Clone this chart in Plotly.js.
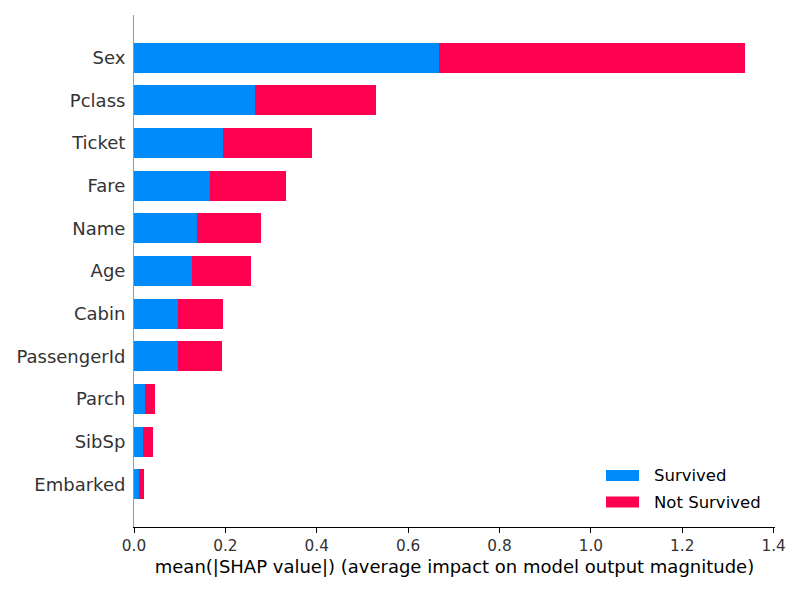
<!DOCTYPE html>
<html>
<head>
<meta charset="utf-8">
<script src="https://cdn.plot.ly/plotly-3.0.1.min.js"></script>
<style>html,body{margin:0;padding:0;background:#fff;}#chart{width:800px;height:590px;}</style>
</head>
<body>
<div id="chart"></div>
<script>
// Features, bottom to top
const features = ["Embarked", "SibSp", "Parch", "PassengerId", "Cabin", "Age", "Name", "Fare", "Ticket", "Pclass", "Sex"];
const survived = [0.010, 0.019, 0.023, 0.096, 0.096, 0.128, 0.137, 0.166, 0.194, 0.264, 0.667];
const notSurvived = [0.011, 0.022, 0.024, 0.096, 0.098, 0.127, 0.140, 0.166, 0.195, 0.265, 0.670];
const seriesNames = ["Survived", "Not Survived"];
const seriesColors = ["#008bfb", "#ff0051"];
const xTicks = [0, 0.2, 0.4, 0.6, 0.8, 1.0, 1.2, 1.4];
const xTickText = ["0.0", "0.2", "0.4", "0.6", "0.8", "1.0", "1.2", "1.4"];
const xTitle = "mean(|SHAP value|) (average impact on model output magnitude)";

const FONT = "DejaVu Sans, sans-serif";
const idx = features.map((_, i) => i);

const traces = [
  {type: "bar", orientation: "h", name: seriesNames[0], x: survived, y: idx,
   marker: {color: seriesColors[0], line: {width: 0}}, width: 0.7, hoverinfo: "x+name"},
  {type: "bar", orientation: "h", name: seriesNames[1], x: notSurvived, y: idx,
   marker: {color: seriesColors[1], line: {width: 0}}, width: 0.7, hoverinfo: "x+name"}
];

// Legend drawn as patches (matplotlib-style) in paper coordinates
const M = {l: 134, r: 25, t: 15, b: 63};
const PW = 800 - M.l - M.r, PH = 590 - M.t - M.b;
const px = v => (v - M.l) / PW;
const py = v => (590 - M.b - v) / PH;
const legendRows = [475.5, 502];
const shapes = [], annotations = [];
seriesNames.forEach((nm, i) => {
  const cy = legendRows[i];
  shapes.push({type: "rect", xref: "paper", yref: "paper",
    x0: px(606), x1: px(639), y0: py(cy + 5.5), y1: py(cy - 5.5),
    fillcolor: seriesColors[i], line: {width: 0}});
  annotations.push({xref: "paper", yref: "paper", x: px(652), y: py(cy),
    xanchor: "left", yanchor: "middle", showarrow: false, text: nm,
    font: {family: FONT, size: 16.5, color: "#000000"}});
});

const layout = {
  width: 800, height: 590,
  margin: {l: M.l, r: M.r, t: M.t, b: M.b, pad: 0},
  paper_bgcolor: "#ffffff", plot_bgcolor: "#ffffff",
  barmode: "stack",
  font: {family: FONT, color: "#333333"},
  showlegend: false,
  shapes: shapes,
  annotations: annotations,
  xaxis: {
    range: [0, 1.403], tickvals: xTicks, ticktext: xTickText,
    showgrid: false, zeroline: false,
    showline: true, linecolor: "#000000", linewidth: 1,
    ticks: "outside", ticklen: 5, tickwidth: 1, tickcolor: "#000000",
    tickfont: {family: FONT, size: 15.3, color: "#333333"},
    title: {text: xTitle, font: {family: FONT, size: 18, color: "#000000"}, standoff: 6},
    fixedrange: true
  },
  yaxis: {
    range: [-1, 11], tickvals: idx, ticktext: features,
    showgrid: false, zeroline: false,
    showline: true, linecolor: "#999999", linewidth: 1,
    ticks: "", ticklabelstandoff: 4,
    tickfont: {family: FONT, size: 18, color: "#333333"},
    fixedrange: true
  }
};

Plotly.newPlot("chart", traces, layout, {displayModeBar: false, staticPlot: true});
</script>
</body>
</html>
